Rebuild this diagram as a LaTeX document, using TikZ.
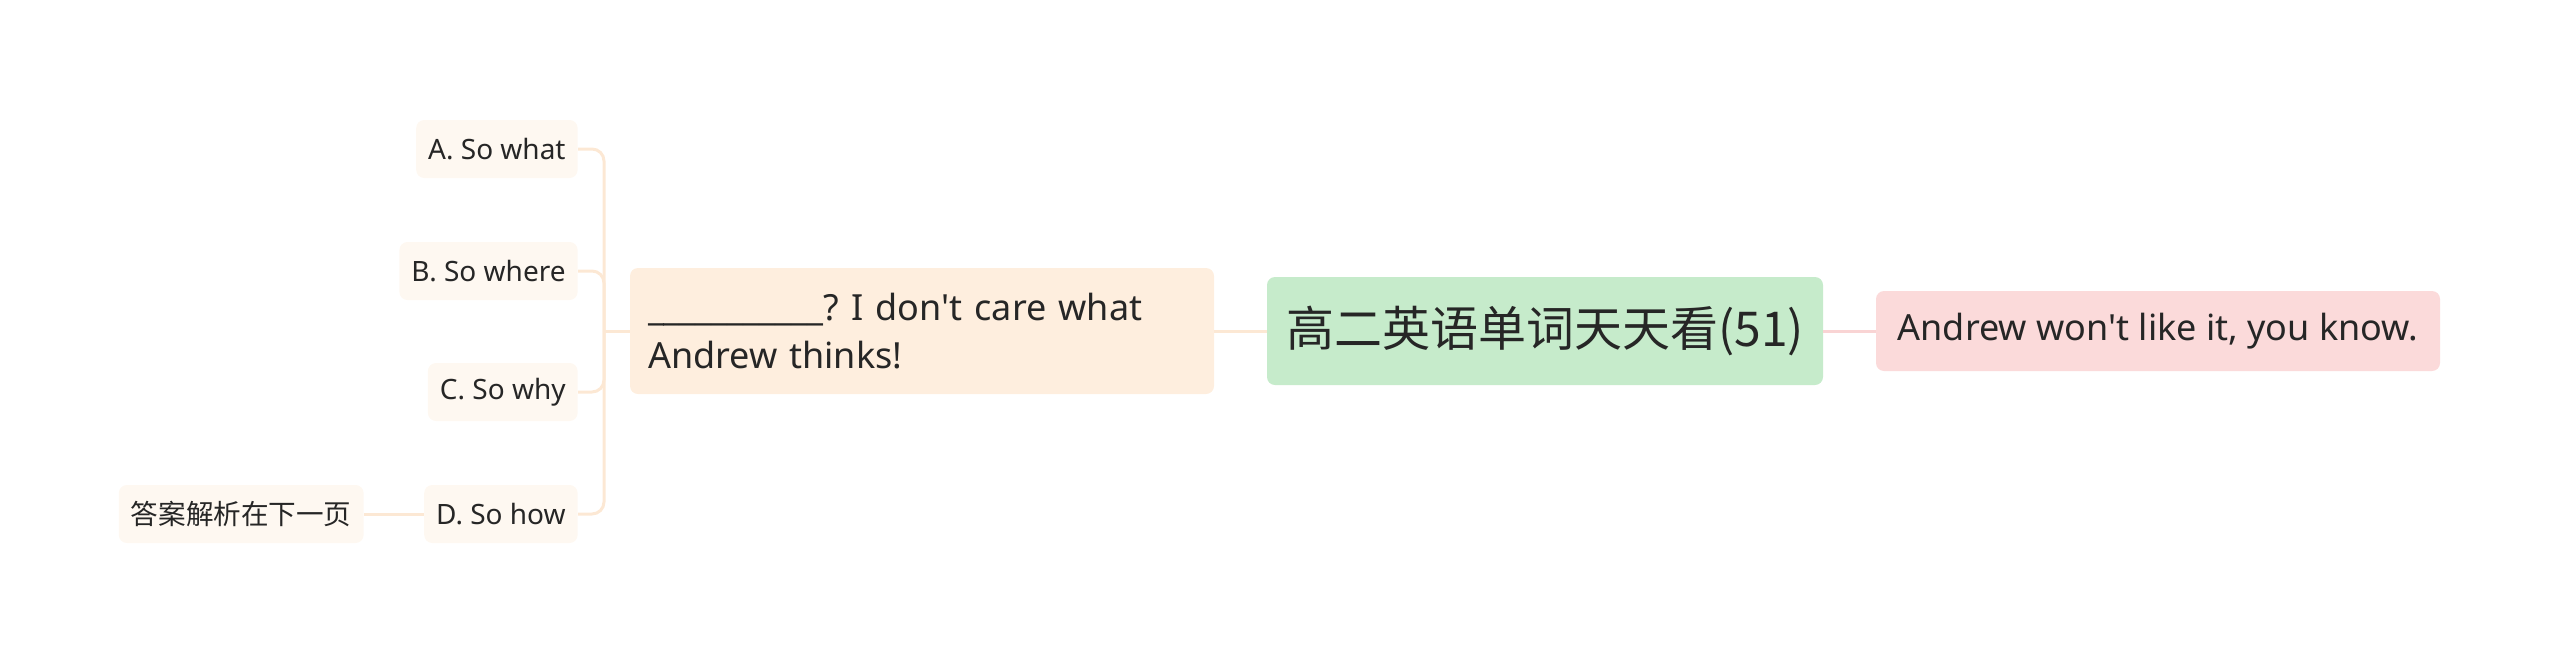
\documentclass[tikz,border=0pt]{standalone}
\usepackage{fontspec}
\setmainfont{Noto Sans}[Ligatures=TeXOff]
\newfontfamily\cjk{Noto Sans CJK SC}
\usepackage{tikz}
\usetikzlibrary{positioning, calc}
\definecolor{rootGreen}{HTML}{C6EBCB}
\definecolor{rightPink}{HTML}{FBDADA}
\definecolor{linkPink}{HTML}{F9D4D4}
\definecolor{mainPeach}{HTML}{FEEEDE}
\definecolor{leafCream}{HTML}{FEF8F1}
\definecolor{linkPeach}{HTML}{FCE8D4}
\definecolor{inkGrey}{HTML}{262626}
\frenchspacing

\begin{document}
\begin{tikzpicture}[x=1pt, y=1pt,
    box/.style={rounded corners=4pt, text=inkGrey, inner sep=0pt},
    rootbox/.style={box, fill=rootGreen, minimum width=278pt, minimum height=54pt, font=\cjk\fontsize{24}{28}\selectfont},
    rightbox/.style={box, fill=rightPink, minimum width=282pt, minimum height=40pt, font=\fontsize{18}{22}\selectfont},
    mainbox/.style={box, fill=mainPeach, minimum width=292pt, minimum height=63pt, text width=274pt, align=left, font=\fontsize{18}{24}\selectfont},
    leafbox/.style={box, fill=leafCream, minimum height=29pt, inner xsep=6pt, font=\fontsize{14}{16}\selectfont},
    lnk/.style={line width=1.5pt, linkPeach, rounded corners=6pt}
]
    \useasboundingbox (0,0) rectangle (1280,-332.5);

    % centre and its two sides
    \node[rootbox] (root) at (772.5,-165.5) {高二英语单词天天看(51)};
    \node[rightbox] (right) at (1079,-165.5) {Andrew won't like it, you know.};
    \node[mainbox] (main) at (461,-165.5) {\_\_\_\_\_\_\_\_\_\_\_? I don't care what Andrew thinks!};

    % options
    \node[leafbox, anchor=east] (optA) at (289,-74.5) {A. So what};
    \node[leafbox, anchor=east] (optB) at (289,-135.5) {B. So where};
    \node[leafbox, anchor=east] (optC) at (289,-196) {C. So why};
    \node[leafbox, anchor=east] (optD) at (289,-257) {D. So how};
    \node[leafbox, anchor=east, font=\cjk\fontsize{13.8}{16}\selectfont] (note) at (182,-257) {答案解析在下一页};

    \coordinate (fork) at (302,-165.5);

    \draw[lnk] (root.west) -- (main.east);
    \draw[lnk, linkPink] (root.east) -- (right.west);
    \draw[lnk] (main.west) -- (fork);
    \draw[lnk] (fork) |- (optA.east);
    \draw[lnk] (fork) |- (optB.east);
    \draw[lnk] (fork) |- (optC.east);
    \draw[lnk] (fork) |- (optD.east);
    \draw[lnk] (optD.west) -- (note.east);
\end{tikzpicture}
\end{document}
